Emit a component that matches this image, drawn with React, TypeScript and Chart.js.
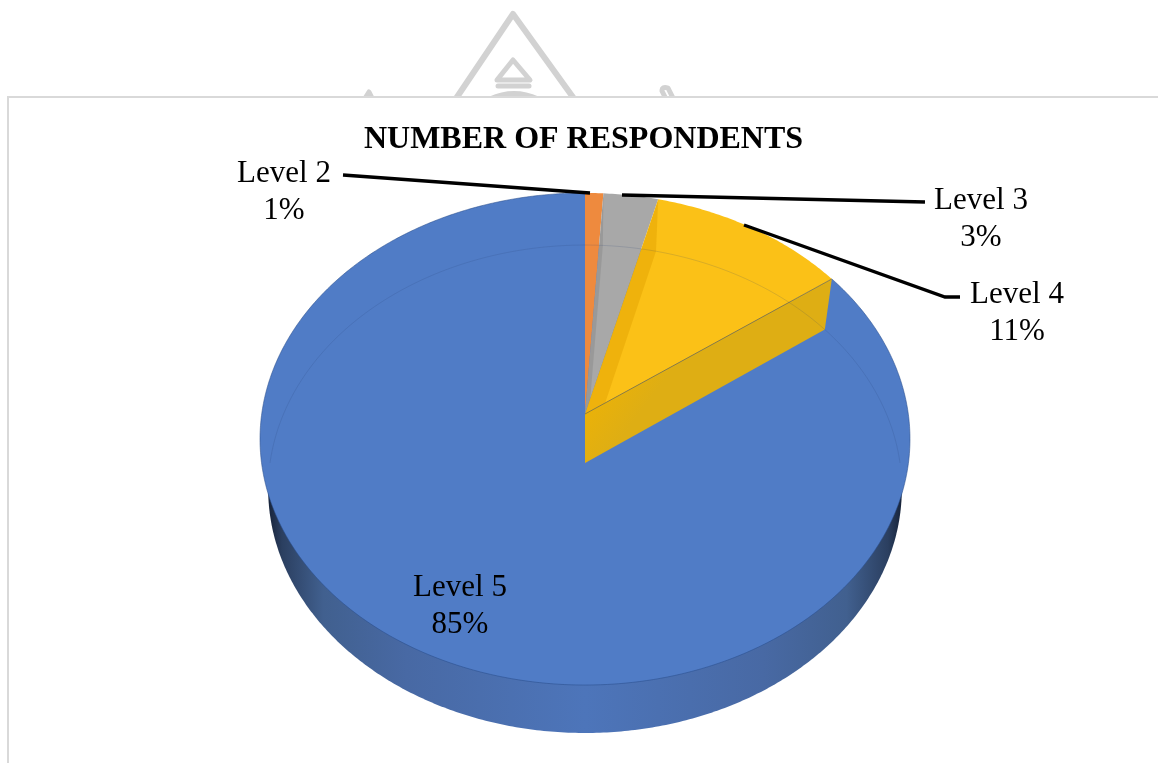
import React, { useEffect, useRef } from "react";
import { Chart, registerables } from "chart.js";

Chart.register(...registerables);

const categories = ["Level 2", "Level 3", "Level 4", "Level 5"];
const shares = [1, 3, 11, 85];
const faceColors = ["#EE8A3E", "#A8A8A8", "#FBC117", "#507CC6"];
const chartTitle = "NUMBER OF RESPONDENTS";

const SERIF = '"Liberation Serif", "Times New Roman", serif';

// Perspective disc: each plane maps the unit circle onto the page.
type Plane = { cx: number; cy: number; bx: number; by: number; k: number };
const topPlane: Plane = { cx: 585, cy: 414, bx: 323.3, by: 243.5, k: -0.1016 };
const basePlane: Plane = { cx: 585, cy: 463, bx: 315, by: 241.2, k: -0.1066 };

const project = (p: Plane, a: number): [number, number] => {
  const u = Math.cos(a);
  const v = Math.sin(a);
  const d = 1 + p.k * v;
  return [p.cx + (p.bx * u) / d, p.cy + (p.by * v) / d];
};

const traceArc = (ctx: CanvasRenderingContext2D, p: Plane, from: number, to: number, join = true) => {
  const steps = Math.max(2, Math.ceil(Math.abs(to - from) / 0.01));
  for (let i = 0; i <= steps; i++) {
    const [x, y] = project(p, from + ((to - from) * i) / steps);
    if (i === 0 && !join) ctx.moveTo(x, y);
    else ctx.lineTo(x, y);
  }
};

const sliceFace = (ctx: CanvasRenderingContext2D, start: number, end: number) => {
  ctx.beginPath();
  ctx.moveTo(topPlane.cx, topPlane.cy);
  traceArc(ctx, topPlane, start, end);
  ctx.closePath();
};

const radialWall = (ctx: CanvasRenderingContext2D, angle: number) => {
  const t = project(topPlane, angle);
  const b = project(basePlane, angle);
  ctx.beginPath();
  ctx.moveTo(topPlane.cx, topPlane.cy);
  ctx.lineTo(t[0], t[1]);
  ctx.lineTo(b[0], b[1]);
  ctx.lineTo(basePlane.cx, basePlane.cy);
  ctx.closePath();
};

const backdrop = {
  id: "backdrop",
  beforeDraw(chart: Chart) {
    const ctx = chart.ctx;
    ctx.save();
    ctx.fillStyle = "#fff";
    ctx.fillRect(0, 0, chart.width, chart.height);

    // Emblem rising behind the panel
    ctx.strokeStyle = "#d2d2d2";
    ctx.lineWidth = 6;
    ctx.lineJoin = "round";
    ctx.lineCap = "round";
    ctx.beginPath();
    ctx.moveTo(455, 100);
    ctx.lineTo(513, 14);
    ctx.lineTo(575, 100);
    ctx.stroke();
    ctx.lineWidth = 5;
    ctx.beginPath();
    ctx.moveTo(497, 80);
    ctx.lineTo(513, 60);
    ctx.lineTo(530, 80);
    ctx.closePath();
    ctx.stroke();
    ctx.beginPath();
    ctx.moveTo(498, 86);
    ctx.lineTo(529, 86);
    ctx.stroke();
    ctx.beginPath();
    ctx.moveTo(490, 99);
    ctx.quadraticCurveTo(514, 88, 538, 99);
    ctx.stroke();
    ctx.beginPath();
    ctx.moveTo(364, 100);
    ctx.lineTo(369, 92);
    ctx.lineTo(373, 100);
    ctx.stroke();
    ctx.beginPath();
    ctx.moveTo(674, 100);
    ctx.lineTo(668, 88);
    ctx.quadraticCurveTo(662, 86, 662, 91);
    ctx.lineTo(665, 97);
    ctx.stroke();

    // Panel interior and its top and left border
    ctx.fillStyle = "#fff";
    ctx.fillRect(8, 97, chart.width - 8, chart.height - 97);
    ctx.strokeStyle = "#d9d9d9";
    ctx.lineWidth = 2;
    ctx.lineCap = "butt";
    ctx.lineJoin = "miter";
    ctx.beginPath();
    ctx.moveTo(8, chart.height);
    ctx.lineTo(8, 97);
    ctx.lineTo(chart.width, 97);
    ctx.stroke();
    ctx.restore();
  },
};

// Replaces the flat arcs with a tilted, extruded disc using the controller's angles.
const tiltedPie = {
  id: "tiltedPie",
  beforeDatasetsDraw(chart: Chart) {
    const ctx = chart.ctx;
    const arcs = chart.getDatasetMeta(0).data as any[];
    const colors = chart.data.datasets[0].backgroundColor as string[];
    const bigIndex = arcs.length - 1;
    const first = arcs[0].startAngle as number;
    ctx.save();

    // Outer rim
    const rim = ctx.createLinearGradient(266, 0, 904, 0);
    rim.addColorStop(0, "#141f33");
    rim.addColorStop(0.025, "#2b3f60");
    rim.addColorStop(0.09, "#41608f");
    rim.addColorStop(0.22, "#4869a4");
    rim.addColorStop(0.5, "#4d75ba");
    rim.addColorStop(0.78, "#4869a4");
    rim.addColorStop(0.91, "#41608f");
    rim.addColorStop(0.975, "#2b3f60");
    rim.addColorStop(1, "#141f33");
    ctx.fillStyle = rim;
    ctx.beginPath();
    traceArc(ctx, basePlane, 0, Math.PI * 2, false);
    ctx.closePath();
    ctx.fill();

    // Top faces, largest first
    [bigIndex, ...arcs.keys()].slice(0, arcs.length).forEach((i) => {
      sliceFace(ctx, arcs[i].startAngle, arcs[i].endAngle);
      ctx.fillStyle = colors[i];
      ctx.fill();
    });

    // Edge of the large slice around the disc
    ctx.strokeStyle = "rgba(42,78,140,0.55)";
    ctx.lineWidth = 1;
    ctx.beginPath();
    traceArc(ctx, topPlane, arcs[bigIndex].startAngle, arcs[bigIndex].endAngle, false);
    ctx.stroke();

    // Inner walls seen through the translucent smaller slices
    for (let i = 0; i < bigIndex; i++) {
      ctx.save();
      sliceFace(ctx, arcs[i].startAngle, arcs[i].endAngle);
      ctx.clip();
      radialWall(ctx, arcs[i].startAngle);
      ctx.fillStyle = i === 2 ? "rgba(224,160,0,0.45)" : "rgba(90,90,90,0.18)";
      ctx.fill();
      ctx.restore();
    }

    // Exposed cut face of the slice beside the large one
    const cut = arcs[bigIndex].startAngle as number;
    radialWall(ctx, cut);
    ctx.fillStyle = "#DEAE14";
    ctx.fill();
    const lower = ctx.createLinearGradient(585, 414, 620, 440);
    lower.addColorStop(0, "rgba(235,178,8,0.9)");
    lower.addColorStop(1, "rgba(235,178,8,0)");
    ctx.fillStyle = lower;
    ctx.fill();
    const cutEnd = project(topPlane, cut);
    ctx.strokeStyle = "rgba(110,105,80,0.7)";
    ctx.beginPath();
    ctx.moveTo(topPlane.cx, topPlane.cy);
    ctx.lineTo(cutEnd[0], cutEnd[1]);
    ctx.stroke();

    // Far edge of the base showing through the disc
    ctx.strokeStyle = "rgba(40,60,110,0.16)";
    ctx.beginPath();
    traceArc(ctx, basePlane, first - Math.PI / 2, first + Math.PI / 2, false);
    ctx.stroke();

    ctx.restore();
    return false;
  },
};

const leaders: [number, number][][] = [
  [[343, 175], [590, 193]],
  [[622, 195], [925, 202]],
  [[744, 225], [945, 297], [960, 297]],
];
const labelAnchors: [number, number][] = [
  [284, 174],
  [981, 201],
  [1017, 295],
  [460, 588],
];

// Runs after the whole draw, since the dataset hooks stop once the arcs are replaced.
const sliceLabels = {
  id: "sliceLabels",
  afterDraw(chart: Chart) {
    const ctx = chart.ctx;
    ctx.save();
    ctx.strokeStyle = "#000";
    ctx.lineWidth = 3.4;
    leaders.forEach((pts) => {
      ctx.beginPath();
      pts.forEach(([x, y], i) => (i ? ctx.lineTo(x, y) : ctx.moveTo(x, y)));
      ctx.stroke();
    });
    ctx.fillStyle = "#000";
    ctx.font = `31px ${SERIF}`;
    ctx.textAlign = "center";
    ctx.textBaseline = "middle";
    categories.forEach((name, i) => {
      const [x, y] = labelAnchors[i];
      ctx.fillText(name, x, y);
      ctx.fillText(`${shares[i]}%`, x, y + 37);
    });
    ctx.restore();
  },
};

export default function App() {
  const canvasRef = useRef<HTMLCanvasElement>(null);

  useEffect(() => {
    const chart = new Chart(canvasRef.current!, {
      type: "pie",
      data: {
        labels: categories,
        datasets: [{ data: shares, backgroundColor: faceColors, borderWidth: 0 }],
      },
      options: {
        responsive: false,
        animation: false,
        layout: { padding: { top: 100, left: 9 } },
        plugins: {
          legend: { display: false },
          tooltip: { enabled: false },
          title: {
            display: true,
            text: chartTitle,
            color: "#000",
            font: { family: SERIF, size: 32, weight: "bold" },
            padding: { top: 21, bottom: 0 },
          },
        },
      },
      plugins: [backdrop, tiltedPie, sliceLabels],
    });
    return () => chart.destroy();
  }, []);

  return (
    <canvas
      ref={canvasRef}
      width={1158}
      height={763}
      style={{ position: "absolute", left: 0, top: 0, display: "block" }}
    />
  );
}
